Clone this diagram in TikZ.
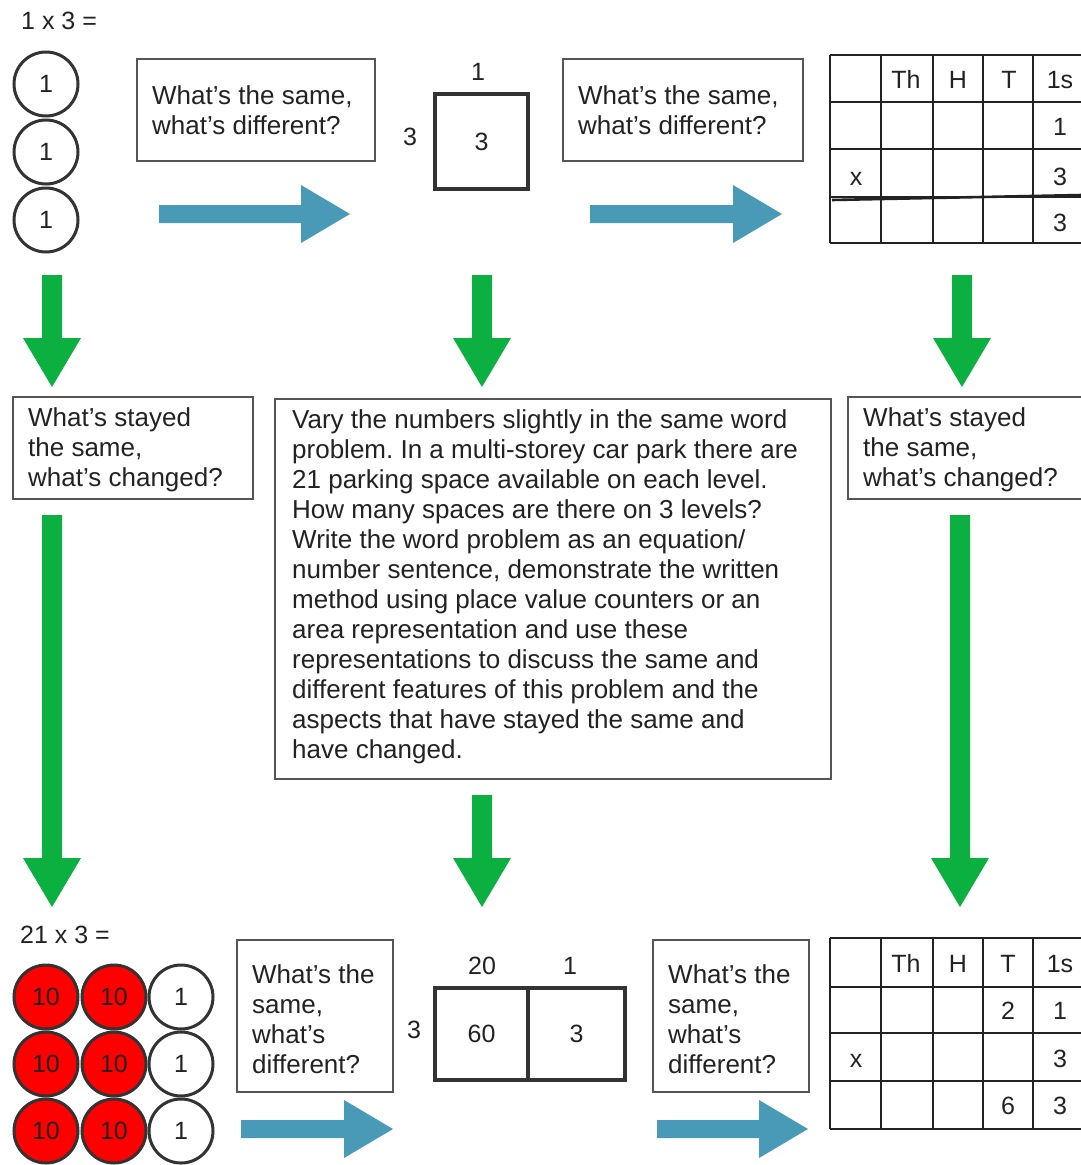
\documentclass[tikz,border=0pt]{standalone}
\usepackage{fontspec}
\setmainfont{Liberation Sans}
\usetikzlibrary{calc}
\frenchspacing
\definecolor{ink}{HTML}{222222}
\definecolor{boxline}{HTML}{555555}
\definecolor{shapeline}{HTML}{333333}
\definecolor{arrowblue}{RGB}{72,154,183}
\definecolor{arrowgreen}{RGB}{12,176,64}
\definecolor{counterred}{RGB}{255,0,0}

\newcommand\BlueArr[2]{%
  \fill[arrowblue] ($(#1)+(0,-9)$) -- ($(#2)+(-49,-9)$) -- ($(#2)+(-49,-29)$) -- (#2)
    -- ($(#2)+(-49,29)$) -- ($(#2)+(-49,9)$) -- ($(#1)+(0,9)$) -- cycle;}
\newcommand\GreenArr[2]{%
  \fill[arrowgreen] ($(#1)+(-10,0)$) -- ($(#2)+(-10,-49)$) -- ($(#2)+(-29,-49)$) -- (#2)
    -- ($(#2)+(29,-49)$) -- ($(#2)+(10,-49)$) -- ($(#1)+(10,0)$) -- cycle;}

\tikzset{
  qbox/.style={draw=boxline, line width=1.6pt, rectangle, inner sep=0pt, anchor=north west},
  qtext/.style={text=ink, align=left, anchor=west, inner sep=0pt, font=\fontsize{26}{30}\selectfont\frenchspacing},
  counter/.style={circle, draw=shapeline, line width=3pt, minimum size=64pt, inner sep=0pt, text=ink, font=\fontsize{25}{25}\selectfont},
  onetop/.style={counter, fill=white},
  ten/.style={counter, fill=counterred},
  one/.style={counter, fill=white},
  lbl/.style={text=ink, inner sep=0pt, font=\fontsize{25}{25}\selectfont},
  cell/.style={text=ink, inner sep=0pt, anchor=base, font=\fontsize{25}{25}\selectfont},
  area/.style={draw=shapeline, line width=4pt, rectangle, inner sep=0pt, anchor=north west, text=ink, font=\fontsize{25}{25}\selectfont},
  gridline/.style={draw=ink, line width=1.8pt},
}

\begin{document}
\begin{tikzpicture}[x=1pt, y=-1pt]
\useasboundingbox (0,0) rectangle (1081,1165);
\clip (0,0) rectangle (1081,1165);
\fill[white] (0,0) rectangle (1081,1165);

% ---------- top row ----------
\node[lbl, anchor=west] (eq1) at (21,21) {1 x 3 =};
\node[onetop] (c1) at (46,84) {1};
\node[onetop] (c2) at (46,152) {1};
\node[onetop] (c3) at (46,220) {1};

\node[qbox, minimum width=238pt, minimum height=102pt] (q1) at (136,58) {};
\node[qtext] (q1t) at ($(q1.west)+(16,0)$) {What’s the same,\\what’s different?};

\node[area, minimum width=93pt, minimum height=95pt] (sq) at (433,92) {3};
\node[lbl] (sqtop) at (478,72) {1};
\node[lbl] (sqleft) at (410,137) {3};

\node[qbox, minimum width=240pt, minimum height=102pt] (q2) at (562,58) {};
\node[qtext] (q2t) at ($(q2.west)+(16,0)$) {What’s the same,\\what’s different?};

% top table
\foreach \xx in {830,881,933,983,1033} \draw[gridline] (\xx,55) -- (\xx,243);
\foreach \yy in {55,102,149,197,243} \draw[gridline] (830,\yy) -- (1090,\yy);
\draw[ink, line width=2.6pt] (832,200) -- (1082,195);
\node[cell] (tTh) at (906,88) {Th};
\node[cell] (tH) at (958,88) {H};
\node[cell] (tT) at (1009,88) {T};
\node[cell] (t1s) at (1060,88) {1s};
\node[cell] (tr1) at (1060,135) {1};
\node[cell] (tx) at (856,185) {x};
\node[cell] (tr2) at (1060,185) {3};
\node[cell] (tr3) at (1060,231) {3};

% blue arrows top
\coordinate (b1s) at (159,214); \coordinate (b1e) at (350,214);
\coordinate (b2s) at (590,214); \coordinate (b2e) at (782,214);
\BlueArr{b1s}{b1e}
\BlueArr{b2s}{b2e}

% green arrows top
\coordinate (g1s) at (52,275);  \coordinate (g1e) at (52,387);
\coordinate (g2s) at (482,275); \coordinate (g2e) at (482,387);
\coordinate (g3s) at (962,275); \coordinate (g3e) at (962,387);
\GreenArr{g1s}{g1e}
\GreenArr{g2s}{g2e}
\GreenArr{g3s}{g3e}

% ---------- middle row ----------
\node[qbox, minimum width=240pt, minimum height=102pt] (s1) at (12,396) {};
\node[qtext] (s1t) at ($(s1.west)+(16,2)$) {What’s stayed\\the same,\\what’s changed?};

\node[qbox, minimum width=556pt, minimum height=380pt] (big) at (274,398) {};
\node[qtext] (bigt) at ($(big.west)+(18,-2)$) {Vary the numbers slightly in the same word\\problem. In a multi-storey car park there are\\21 parking space available on each level.\\How many spaces are there on 3 levels?\\Write the word problem as an equation/\\number sentence, demonstrate the written\\method using place value counters or an\\area representation and use these\\representations to discuss the same and\\different features of this problem and the\\aspects that have stayed the same and\\have changed.};

\node[qbox, minimum width=241pt, minimum height=102pt] (s2) at (847,396) {};
\node[qtext] (s2t) at ($(s2.west)+(16,2)$) {What’s stayed\\the same,\\what’s changed?};

% green arrows lower
\coordinate (g4s) at (52,515);  \coordinate (g4e) at (52,907);
\coordinate (g5s) at (482,795); \coordinate (g5e) at (482,907);
\coordinate (g6s) at (960,515); \coordinate (g6e) at (960,907);
\GreenArr{g4s}{g4e}
\GreenArr{g5s}{g5e}
\GreenArr{g6s}{g6e}

% ---------- bottom row ----------
\node[lbl, anchor=west] (eq2) at (20,935) {21 x 3 =};
\node[ten] (r11) at (46,997) {10};
\node[ten] (r12) at (114,997) {10};
\node[one] (r13) at (181,997) {1};
\node[ten] (r21) at (46,1064) {10};
\node[ten] (r22) at (114,1064) {10};
\node[one] (r23) at (181,1064) {1};
\node[ten] (r31) at (46,1131) {10};
\node[ten] (r32) at (114,1131) {10};
\node[one] (r33) at (181,1131) {1};

\node[qbox, minimum width=156pt, minimum height=152pt] (q3) at (236,939) {};
\node[qtext] (q3t) at ($(q3.west)+(16,3)$) {What’s the\\same,\\what’s\\different?};

\node[area, minimum width=93pt, minimum height=92pt] (a60) at (433,986) {60};
\node[area, minimum width=97pt, minimum height=92pt] (a3) at (526,986) {3};
\node[lbl] (a20top) at (482,966) {20};
\node[lbl] (a1top) at (570,966) {1};
\node[lbl] (aleft) at (414,1030) {3};

\node[qbox, minimum width=156pt, minimum height=152pt] (q4) at (652,939) {};
\node[qtext] (q4t) at ($(q4.west)+(16,3)$) {What’s the\\same,\\what’s\\different?};

% bottom table
\foreach \xx in {830,881,933,983,1033} \draw[gridline] (\xx,938) -- (\xx,1129);
\foreach \yy in {938,987,1033,1081,1129} \draw[gridline] (830,\yy) -- (1090,\yy);
\node[cell] (bTh) at (906,972) {Th};
\node[cell] (bH) at (958,972) {H};
\node[cell] (bT) at (1008,972) {T};
\node[cell] (b1s) at (1060,972) {1s};
\node[cell] (br1a) at (1008,1019) {2};
\node[cell] (br1b) at (1060,1019) {1};
\node[cell] (bx) at (856,1067) {x};
\node[cell] (br2) at (1060,1067) {3};
\node[cell] (br3a) at (1008,1114) {6};
\node[cell] (br3b) at (1060,1114) {3};

% blue arrows bottom
\coordinate (b3s) at (241,1129); \coordinate (b3e) at (393,1129);
\coordinate (b4s) at (657,1129); \coordinate (b4e) at (808,1129);
\BlueArr{b3s}{b3e}
\BlueArr{b4s}{b4e}
\end{tikzpicture}
\end{document}
